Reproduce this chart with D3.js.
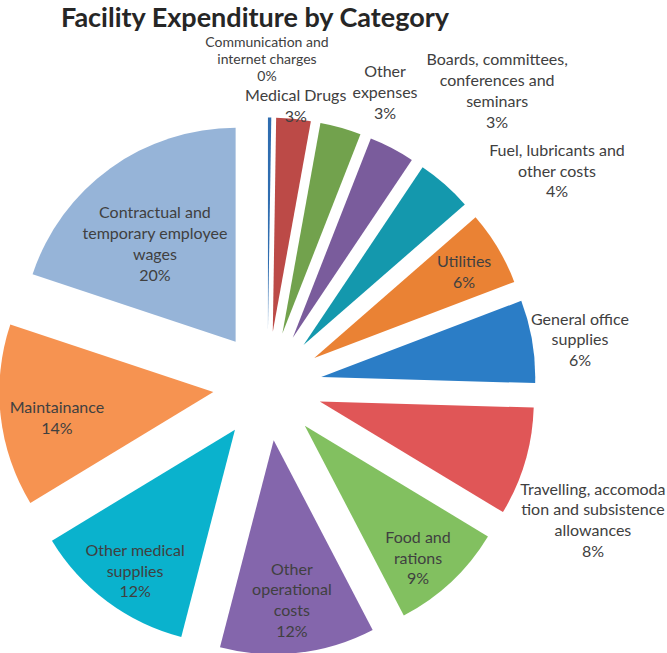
<!DOCTYPE html>
<html>
<head>
<meta charset="utf-8">
<script src="https://cdn.jsdelivr.net/npm/d3@7"></script>
<style>
  html, body { margin: 0; padding: 0; background: #ffffff; }
  svg { display: block; }
</style>
</head>
<body>
<svg id="chart" width="667" height="653"></svg>
<script>
// ---------- data ----------
const title = "Facility Expenditure by Category";
const categories = [
  "Communication and internet charges",
  "Medical Drugs",
  "Other expenses",
  "Boards, committees, conferences and seminars",
  "Fuel, lubricants and other costs",
  "Utilities",
  "General office supplies",
  "Travelling, accomodation and subsistence allowances",
  "Food and rations",
  "Other operational costs",
  "Other medical supplies",
  "Maintainance",
  "Contractual and temporary employee wages"
];
const values = [0.25, 2.6, 3.1, 3.45, 4.2, 5.63, 6.25, 8.2, 8.7, 11.7, 12.3, 13.8, 19.9];
const labelLines = [
  ["Communication and", "internet charges"],
  ["Medical Drugs"],
  ["Other", "expenses"],
  ["Boards, committees,", "conferences and", "seminars"],
  ["Fuel, lubricants and", "other costs"],
  ["Utilities"],
  ["General office", "supplies"],
  ["Travelling, accomoda", "tion and subsistence", "allowances"],
  ["Food and", "rations"],
  ["Other", "operational", "costs"],
  ["Other medical", "supplies"],
  ["Maintainance"],
  ["Contractual and", "temporary employee", "wages"]
];
const colors = [
  "#2F6DB0", "#BC4A47", "#72A24D", "#7A5C9C", "#1498AD", "#EA8234", "#2B7DC6",
  "#E05657", "#82C060", "#8466AC", "#0AB2CD", "#F69351", "#96B4D8"
];

// ---------- layout ----------
const W = 667, H = 653;
const cx = 267.5, cy = 386, R = 214, explode = 54.5;
// label placement (polar, around pie centre): angle in degrees clockwise from top, radius as fraction of R
const labelAngle  = [359.9, 5.75, 21.8, 37.9, 53.4, 59.9, 81.6, 112.4, 138.8, 173.5, 215.6, 261.4, 321.6];
const labelRadius = [1.528, 1.315, 1.479, 1.747, 1.685, 1.062, 1.476, 1.645, 1.068, 1.007, 1.063, 0.995, 0.847];
const labelLineH  = [17, 20.8, 20.8, 20.8, 20.8, 20.8, 20.8, 20.8, 20.8, 20.8, 20.8, 20.8, 20.8];
const labelSize   = [14, 16, 16, 16, 16, 16, 16, 16, 16, 16, 16, 16, 16];
const fontFamily = "Lato, 'Open Sans', sans-serif";

const svg = d3.select("#chart");

svg.append("text")
  .attr("x", 255).attr("y", 27)
  .attr("text-anchor", "middle")
  .attr("font-family", fontFamily)
  .attr("font-weight", "bold")
  .attr("font-size", 27)
  .attr("fill", "#262626")
  .text(title);

const total = d3.sum(values);
const pie = d3.pie().sort(null).value(d => d)(values);
const arc = d3.arc().innerRadius(0).outerRadius(R);
const pct = d3.format(".0%");

const g = svg.append("g").attr("transform", `translate(${cx},${cy})`);

g.selectAll("path.slice")
  .data(pie)
  .join("path")
  .attr("class", "slice")
  .attr("fill", (d, i) => colors[i])
  .attr("transform", d => {
    const m = (d.startAngle + d.endAngle) / 2;
    return `translate(${explode * Math.sin(m)},${-explode * Math.cos(m)})`;
  })
  .attr("d", arc);

g.selectAll("text.lbl")
  .data(pie)
  .join("text")
  .attr("class", "lbl")
  .attr("text-anchor", "middle")
  .attr("font-family", fontFamily)
  .attr("font-size", (d, i) => labelSize[i])
  .attr("fill", "#404040")
  .each(function(d, i) {
    const a = labelAngle[i] * Math.PI / 180;
    const r = labelRadius[i] * R;
    const x = r * Math.sin(a), y = -r * Math.cos(a);
    const lh = labelLineH[i];
    const lines = labelLines[i].concat([pct(values[i] / total)]);
    const y0 = y - (lines.length - 1) * lh / 2;
    const t = d3.select(this);
    lines.forEach((s, k) => {
      t.append("tspan")
        .attr("x", x)
        .attr("y", y0 + k * lh)
        .attr("dy", "0.35em")
        .text(s);
    });
  });
</script>
</body>
</html>
